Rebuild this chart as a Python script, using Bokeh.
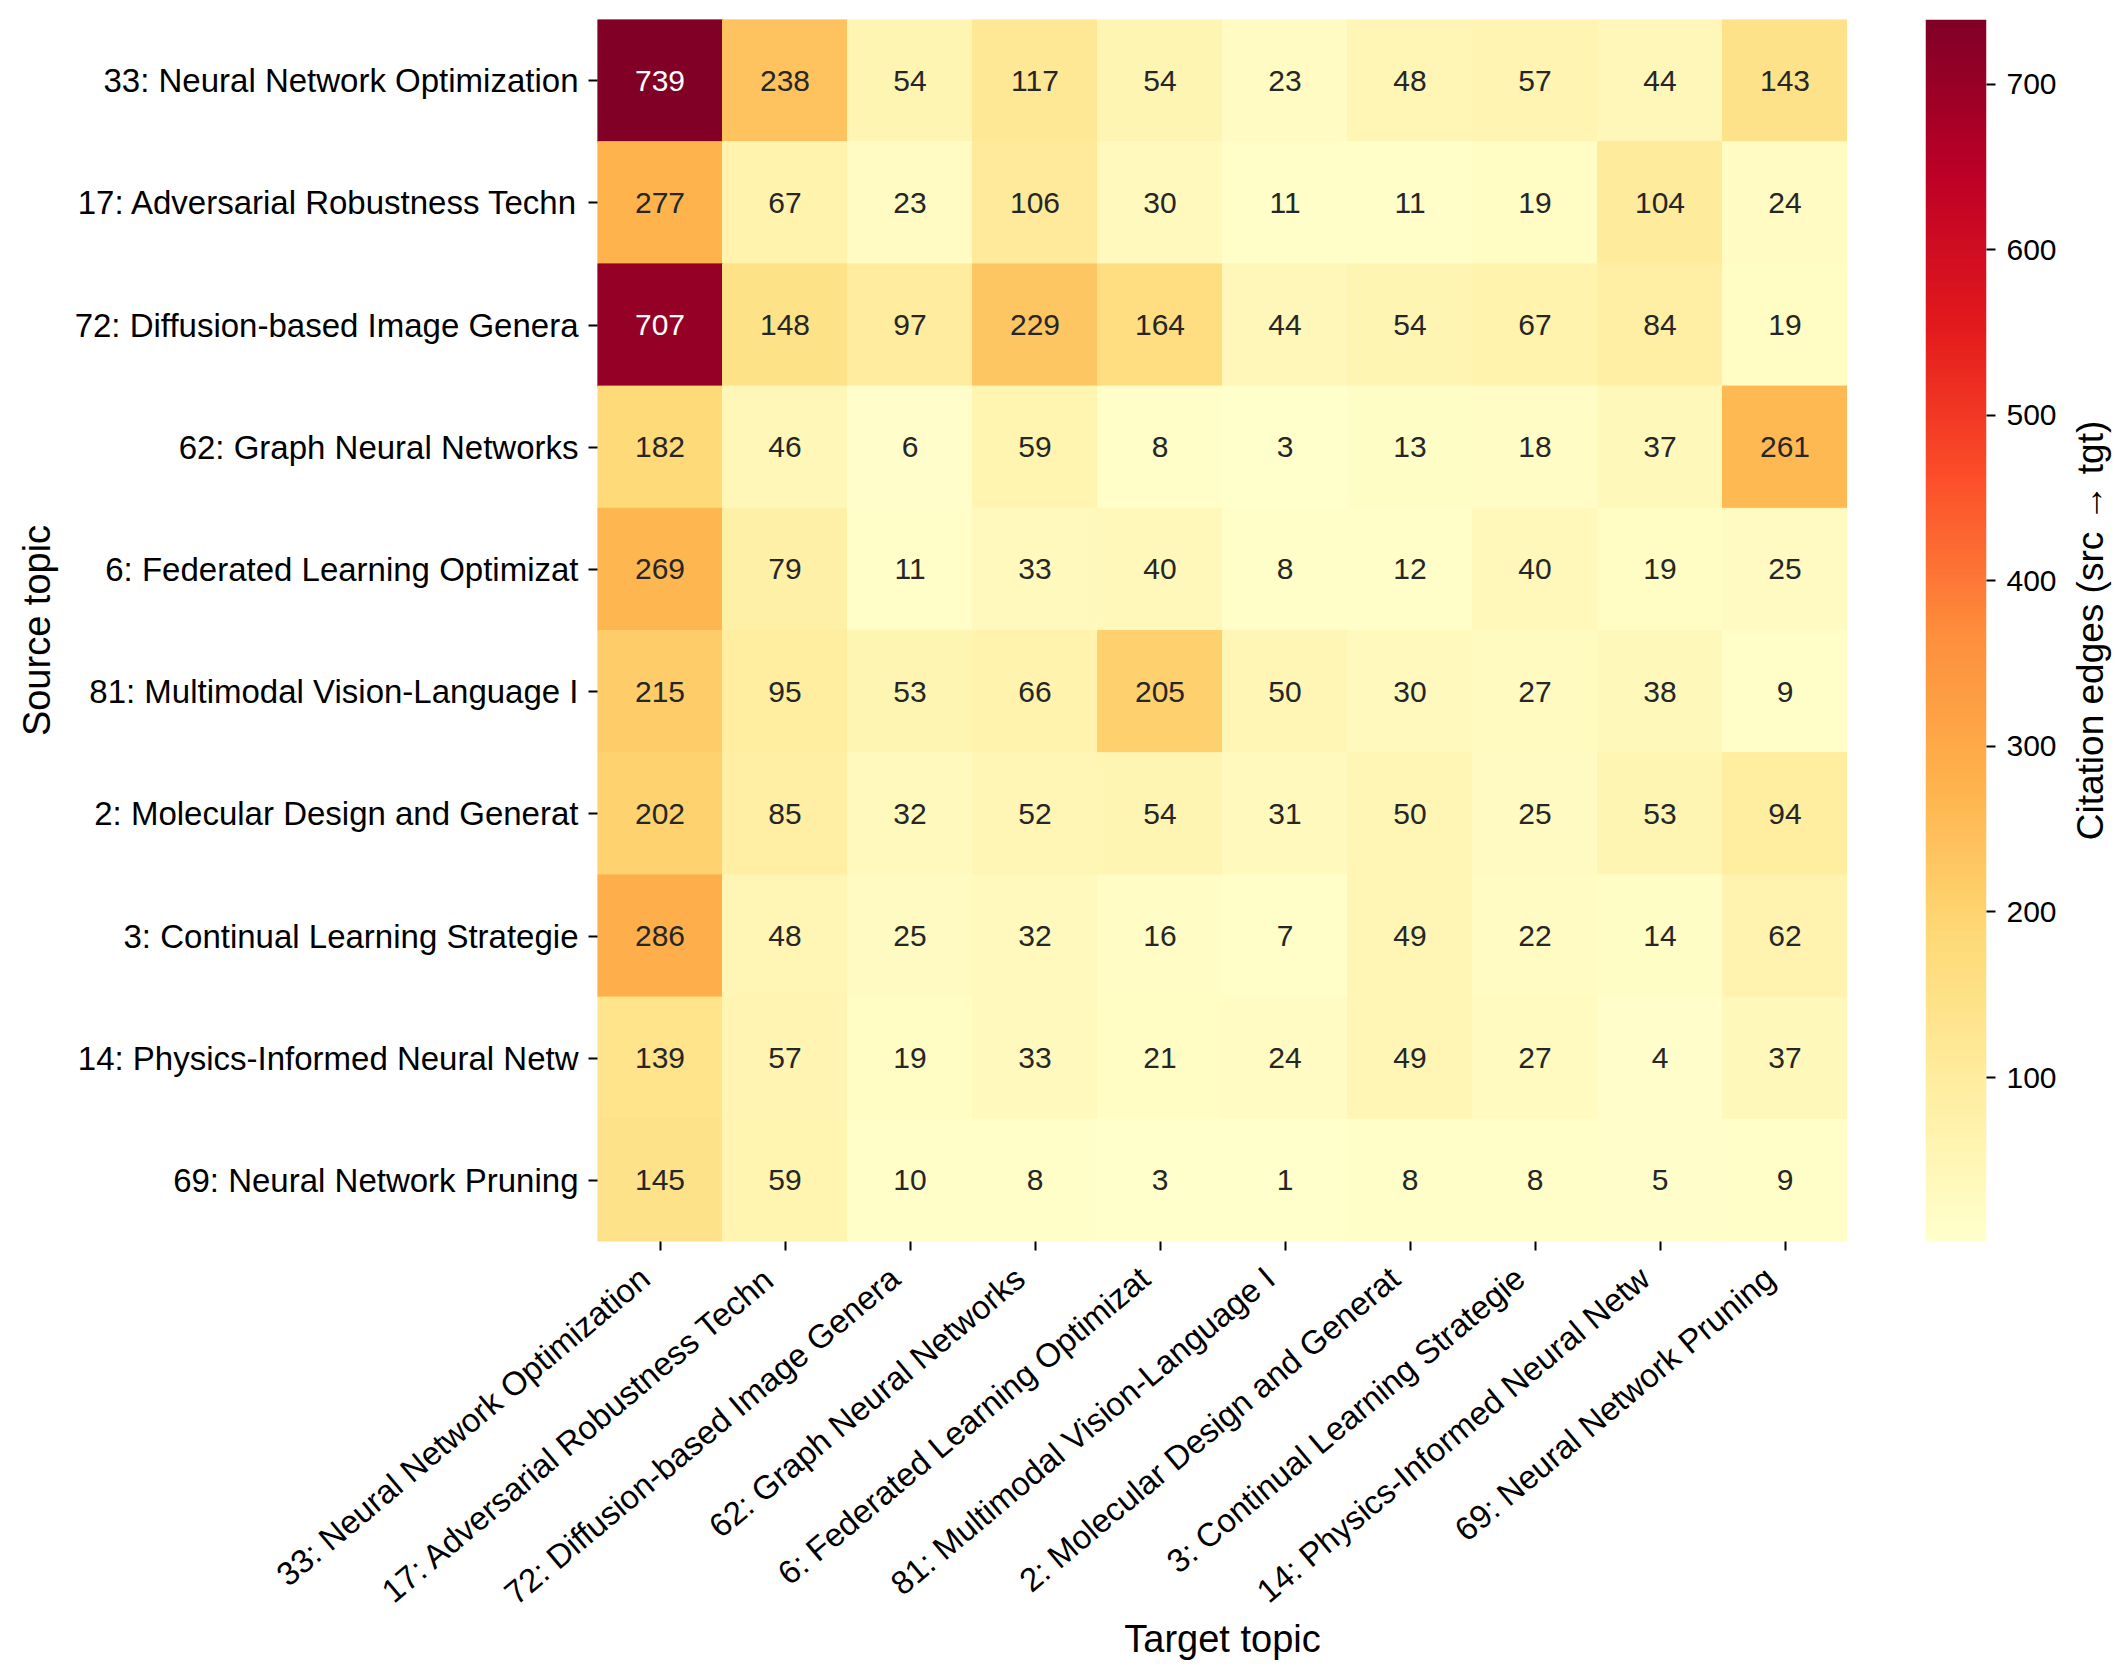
import numpy as np
from bokeh.plotting import figure
from bokeh.layouts import row
from bokeh.models import (ColumnDataSource, LinearColorMapper, FixedTicker,
                          Range1d, LinearAxis, LinearScale)
from bokeh.transform import transform
from bokeh.embed import file_html
from bokeh.resources import INLINE
from bokeh.core.properties import value

# Topic labels (shared by source rows and target columns)
topics = [
    "33: Neural Network Optimization",
    "17: Adversarial Robustness Techn",
    "72: Diffusion-based Image Genera",
    "62: Graph Neural Networks",
    "6: Federated Learning Optimizat",
    "81: Multimodal Vision-Language I",
    "2: Molecular Design and Generat",
    "3: Continual Learning Strategie",
    "14: Physics-Informed Neural Netw",
    "69: Neural Network Pruning",
]

# Citation edge counts, one list per source topic (columns follow `topics`)
row_33 = [739, 238, 54, 117, 54, 23, 48, 57, 44, 143]
row_17 = [277, 67, 23, 106, 30, 11, 11, 19, 104, 24]
row_72 = [707, 148, 97, 229, 164, 44, 54, 67, 84, 19]
row_62 = [182, 46, 6, 59, 8, 3, 13, 18, 37, 261]
row_6 = [269, 79, 11, 33, 40, 8, 12, 40, 19, 25]
row_81 = [215, 95, 53, 66, 205, 50, 30, 27, 38, 9]
row_2 = [202, 85, 32, 52, 54, 31, 50, 25, 53, 94]
row_3 = [286, 48, 25, 32, 16, 7, 49, 22, 14, 62]
row_14 = [139, 57, 19, 33, 21, 24, 49, 27, 4, 37]
row_69 = [145, 59, 10, 8, 3, 1, 8, 8, 5, 9]
rows = [row_33, row_17, row_72, row_62, row_6, row_81, row_2, row_3, row_14, row_69]

cbar_ticks = [100, 200, 300, 400, 500, 600, 700]
cbar_title = "Citation edges (src \u2192 tgt)"

FONT = "Liberation Sans"

# YlOrRd colour ramp, interpolated to 256 steps
ylorrd9 = ["#ffffcc", "#ffeda0", "#fed976", "#feb24c", "#fd8d3c",
           "#fc4e2a", "#e31a1c", "#bd0026", "#800026"]
anchors = np.array([[int(c[i:i + 2], 16) for i in (1, 3, 5)] for c in ylorrd9], float)
pos = np.linspace(0, 1, len(ylorrd9))
t = np.linspace(0, 1, 256)
ramp = np.stack([np.interp(t, pos, anchors[:, k]) for k in range(3)], axis=1)
palette = ["#%02x%02x%02x" % tuple(int(round(v)) for v in c) for c in ramp]

values = np.array(rows, dtype=float)
low, high = values.min(), values.max()
mapper = LinearColorMapper(palette=palette, low=low, high=high)


def luminance(rgb):
    c = np.asarray(rgb) / 255.0
    c = np.where(c <= 0.03928, c / 12.92, ((c + 0.055) / 1.055) ** 2.4)
    return 0.2126 * c[0] + 0.7152 * c[1] + 0.0722 * c[2]


n = len(topics)
centers = [k + 0.5 for k in range(n)]

src, xc, val, txt, tcol = [], [], [], [], []
for i, s in enumerate(topics):
    for j in range(n):
        v = rows[i][j]
        idx = int(min(255, max(0, np.floor((v - low) / (high - low) * 256))))
        src.append(s)
        xc.append(centers[j])
        val.append(v)
        txt.append(str(v))
        tcol.append("#262626" if luminance(ramp[idx]) > 0.408 else "#ffffff")

source = ColumnDataSource(dict(src=src, xc=xc, v=val, label=txt, tcolor=tcol))


def style_axis(ax):
    ax.axis_line_color = None
    ax.major_tick_line_color = "black"
    ax.major_tick_line_width = 2
    ax.major_tick_out = 9
    ax.major_tick_in = 0
    ax.minor_tick_line_color = None
    ax.major_label_text_font = FONT
    ax.major_label_text_color = "black"
    ax.axis_label_text_font = FONT
    ax.axis_label_text_font_style = "normal"
    ax.axis_label_text_color = "black"


# --- heatmap ---------------------------------------------------------------
p = figure(x_range=Range1d(0, n), y_range=list(reversed(topics)),
           frame_width=1250, frame_height=1222,
           min_border_left=597, min_border_top=19,
           min_border_right=0, min_border_bottom=438,
           output_backend="svg", toolbar_location=None)

p.rect(x="xc", y="src", width=1, height=1, source=source,
       fill_color=transform("v", mapper), line_color=transform("v", mapper),
       line_width=1)
p.text(x="xc", y="src", text="label", source=source, text_color="tcolor",
       text_align="center", text_baseline="middle",
       text_font=value(FONT), text_font_size="30px")

for ax in (p.xaxis, p.yaxis):
    style_axis(ax)
    ax.major_label_text_font_size = "33px"
    ax.major_label_standoff = 10
    ax.axis_label_text_font_size = "38px"

p.yaxis.axis_label = "Source topic"
p.yaxis.axis_label_standoff = 14

# bottom axis carries only the tick marks, one per column
p.xaxis.ticker = FixedTicker(ticks=centers)
p.xaxis.major_label_overrides = {c: "" for c in centers}
p.xaxis.major_label_text_font_size = "0px"
p.xaxis.major_label_standoff = 0

# slanted column names, right-aligned just under and left of each tick
shift = 0.12
p.extra_x_ranges = {"names": Range1d(shift, n + shift)}
p.extra_x_scales = {"names": LinearScale()}
name_axis = LinearAxis(x_range_name="names",
                       ticker=FixedTicker(ticks=centers),
                       major_label_overrides={c: name for c, name in zip(centers, topics)})
style_axis(name_axis)
name_axis.major_tick_line_color = None
name_axis.major_tick_out = 0
name_axis.major_label_text_font_size = "33px"
name_axis.major_label_standoff = 23
name_axis.major_label_orientation = np.deg2rad(40)
name_axis.axis_label = "Target topic"
name_axis.axis_label_text_font_size = "38px"
name_axis.axis_label_standoff = -11
p.add_layout(name_axis, "below")

p.grid.visible = False
p.outline_line_color = None

# --- colour bar ------------------------------------------------------------
cb = figure(x_range=Range1d(0, 1), y_range=Range1d(low, high),
            frame_width=61, frame_height=1222,
            min_border_left=78, min_border_right=80,
            min_border_top=19, min_border_bottom=438,
            x_axis_location=None, y_axis_location="right",
            output_backend="svg", toolbar_location=None)
ramp_values = np.linspace(low, high, 600).reshape(-1, 1)
cb.image(image=[ramp_values], x=0, y=low, dw=1, dh=high - low,
         color_mapper=mapper)
cb.grid.visible = False
cb.outline_line_color = None
cb.yaxis.ticker = FixedTicker(ticks=cbar_ticks)
style_axis(cb.yaxis)
cb.yaxis.major_label_text_font_size = "30px"
cb.yaxis.major_label_standoff = 11

# --- colour bar title (a bare left axis so it reads bottom-to-top) ----------
ttl = figure(x_range=Range1d(0, 1), y_range=Range1d(low, high),
             frame_width=1, frame_height=1222,
             min_border_left=39, min_border_right=21,
             min_border_top=19, min_border_bottom=438,
             x_axis_location=None, y_axis_location="left",
             output_backend="svg", toolbar_location=None)
ttl.grid.visible = False
ttl.outline_line_color = None
ttl.yaxis.ticker = FixedTicker(ticks=[])
style_axis(ttl.yaxis)
ttl.yaxis.major_tick_line_color = None
ttl.yaxis.major_label_text_color = None
ttl.yaxis.axis_label = cbar_title
ttl.yaxis.axis_label_text_font_size = "37px"
ttl.yaxis.axis_label_standoff = 5

layout = row(p, cb, ttl, spacing=0)

open("out.html", "w").write(file_html(layout, INLINE))
